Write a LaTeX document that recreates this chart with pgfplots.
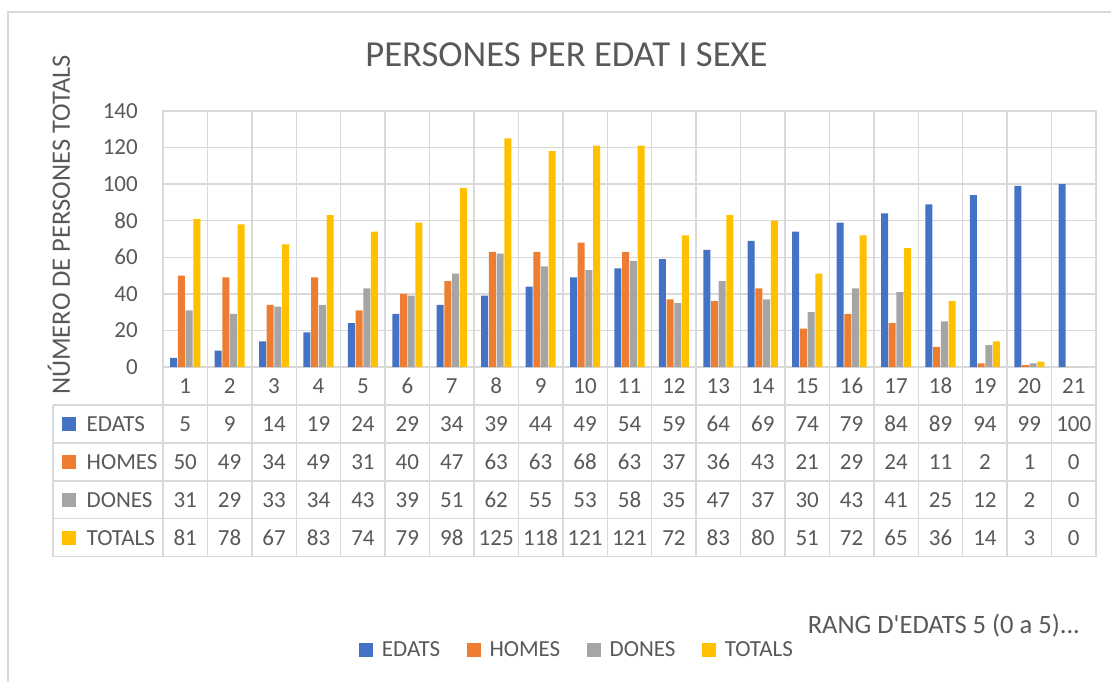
\documentclass[border=0pt]{standalone}
\usepackage{pgfplots}
\pgfplotsset{compat=1.18}
\usepackage{pgfplotstable}
\usepackage{fontspec}
\setmainfont{Carlito}
\definecolor{cE}{HTML}{4472C4}
\definecolor{cH}{HTML}{ED7D31}
\definecolor{cD}{HTML}{A5A5A5}
\definecolor{cT}{HTML}{FFC000}
\definecolor{gridc}{HTML}{D9D9D9}
\definecolor{textc}{HTML}{595959}
\newcommand{\fs}{\fontsize{17.25}{20}\selectfont}
\newcommand{\fl}{\fontsize{19.9}{24}\selectfont}
\newcommand{\ft}{\fontsize{27.5}{33}\selectfont}
\pgfplotstableread{
x E H D T
1 5 50 31 81
2 9 49 29 78
3 14 34 33 67
4 19 49 34 83
5 24 31 43 74
6 29 40 39 79
7 34 47 51 98
8 39 63 62 125
9 44 63 55 118
10 49 68 53 121
11 54 63 58 121
12 59 37 35 72
13 64 36 47 83
14 69 43 37 80
15 74 21 30 51
16 79 29 43 72
17 84 24 41 65
18 89 11 25 36
19 94 2 12 14
20 99 1 2 3
21 100 0 0 0
}\data
\pgfplotstableread{
y name
1.5 EDATS
2.5 HOMES
3.5 DONES
4.5 TOTALS
}\names
\begin{document}
\begin{tikzpicture}[every node/.append style={text=textc}]
\path[use as bounding box] (0,0) rectangle (833.25pt,511.5pt);
\draw[gridc, line width=1pt] (6pt,0pt) -- (6pt,502.5pt) -- (833.25pt,502.5pt);
\begin{axis}[
  at={(122.25pt,236.25pt)}, anchor=south west,
  scale only axis, width=699.75pt, height=192pt,
  xmin=0.5, xmax=21.5, ymin=0, ymax=140,
  ybar=0.525pt, bar width=5.25pt,
  xtick={0.5,1.5,...,21.5}, xticklabels={},
  ytick={0,20,...,140},
  major tick length=0pt,
  xmajorgrids, ymajorgrids,
  grid style={gridc, line width=1pt},
  axis line style={gridc, line width=1pt},
  tick label style={font=\fs, text=textc},
  /pgf/number format/assume math mode=true,
  yticklabel style={inner sep=0pt, xshift=-18.75pt},
  title={PERSONES PER EDAT I SEXE},
  title style={font=\ft, at={(axis description cs:0.4325,1.1719)}, anchor=base, yshift=-6pt},
  ylabel={NÚMERO DE PERSONES TOTALS},
  ylabel style={font=\fl, at={(axis description cs:-0.0997,0.5547)}, anchor=base},
  xlabel={RANG D\textquotesingle EDATS 5 (0 a 5)...},
  xlabel style={font=\fl, at={(axis description cs:0.6860,-1.0391)}, anchor=base west},
  legend columns=4,
  legend style={draw=none, fill=none, inner sep=0pt, font=\fs,
     at={(axis description cs:0.2101,-1.1055)}, anchor=west,
     /tikz/every odd column/.append style={column sep=4.5pt},
     /tikz/every even column/.append style={column sep=18pt}},
]
\addplot[fill=cE, draw=none, legend image code/.code={\fill[cE] (0pt,-5.25pt) rectangle (10.5pt,5.25pt);}] table[x=x,y=E] {\data};
\addlegendentry{EDATS}
\addplot[fill=cH, draw=none, legend image code/.code={\fill[cH] (0pt,-5.25pt) rectangle (10.5pt,5.25pt);}] table[x=x,y=H] {\data};
\addlegendentry{HOMES}
\addplot[fill=cD, draw=none, legend image code/.code={\fill[cD] (0pt,-5.25pt) rectangle (10.5pt,5.25pt);}] table[x=x,y=D] {\data};
\addlegendentry{DONES}
\addplot[fill=cT, draw=none, legend image code/.code={\fill[cT] (0pt,-5.25pt) rectangle (10.5pt,5.25pt);}] table[x=x,y=T] {\data};
\addlegendentry{TOTALS}
\end{axis}
\begin{axis}[
  at={(39.75pt,236.25pt)}, anchor=north west,
  scale only axis, width=782.25pt, height=142.3pt,
  xmin=-1.976, xmax=21.5, ymin=0, ymax=5, y dir=reverse,
  xtick={0.5,1.5,...,21.5}, ytick={1,2,3,4,5},
  xticklabels={}, yticklabels={}, major tick length=0pt,
  xmajorgrids, ymajorgrids, grid style={gridc, line width=1pt},
  axis line style={draw=none},
  clip=false,
  nodes near coords style={anchor=center, font=\fs, text=textc},
]
\draw[gridc, line width=1pt] (axis cs:-1.976,1) -- (axis cs:-1.976,5);
\node[fill=cE, minimum size=10.5pt, inner sep=0pt] at (axis cs:-1.616,1.5) {};
\node[fill=cH, minimum size=10.5pt, inner sep=0pt] at (axis cs:-1.616,2.5) {};
\node[fill=cD, minimum size=10.5pt, inner sep=0pt] at (axis cs:-1.616,3.5) {};
\node[fill=cT, minimum size=10.5pt, inner sep=0pt] at (axis cs:-1.616,4.5) {};
\addplot[draw=none, mark=none, nodes near coords, point meta=explicit symbolic] table[x=x, y expr=0.5, meta=x] {\data};
\addplot[draw=none, mark=none, nodes near coords, point meta=explicit symbolic] table[x=x, y expr=1.5, meta=E] {\data};
\addplot[draw=none, mark=none, nodes near coords, point meta=explicit symbolic] table[x=x, y expr=2.5, meta=H] {\data};
\addplot[draw=none, mark=none, nodes near coords, point meta=explicit symbolic] table[x=x, y expr=3.5, meta=D] {\data};
\addplot[draw=none, mark=none, nodes near coords, point meta=explicit symbolic] table[x=x, y expr=4.5, meta=T] {\data};
\addplot[draw=none, mark=none, nodes near coords, point meta=explicit symbolic, nodes near coords style={anchor=west}] table[x expr=-1.3233, y=y, meta=name] {\names};
\end{axis}
\end{tikzpicture}
\end{document}
